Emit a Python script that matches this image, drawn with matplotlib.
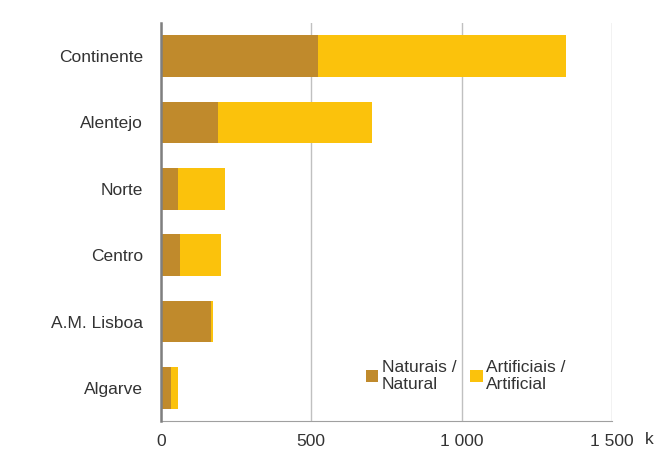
import matplotlib.pyplot as plt
from matplotlib.ticker import FuncFormatter

regions = ['Continente', 'Alentejo', 'Norte', 'Centro', 'A.M. Lisboa', 'Algarve']
natural = [521, 189, 56, 63, 166, 33]
artificial = [826, 514, 156, 136, 6, 23]
x_ticks = [0, 500, 1000, 1500]

plt.rcParams['font.family'] = ['Liberation Sans', 'DejaVu Sans']

fig = plt.figure(figsize=(6.55, 4.5), dpi=100)
ax = fig.add_axes([0.2458, 0.0644, 0.934 - 0.2458, 0.949 - 0.0644])

ypos = list(range(len(regions)))
ax.barh(ypos, natural, height=0.63, color='#C08A2C', label='Naturais /\nNatural', zorder=3)
ax.barh(ypos, artificial, left=natural, height=0.63, color='#FBC20C',
        label='Artificiais /\nArtificial', zorder=3)

ax.set_ylim(len(regions) - 0.5, -0.5)
ax.set_xlim(0, 1500)
ax.set_yticks(ypos)
ax.set_yticklabels(regions, fontsize=12.5, color='#333333')
ax.set_xticks(x_ticks)
ax.xaxis.set_major_formatter(FuncFormatter(lambda v, p: f'{int(v):,}'.replace(',', ' ')))
ax.tick_params(axis='x', labelsize=12.5, colors='#333333', length=0, pad=9)
ax.tick_params(axis='y', length=0, pad=13)

ax.grid(axis='x', color='#C0C0C0', linewidth=1, zorder=0)
for s in ['top', 'right']:
    ax.spines[s].set_visible(False)
ax.spines['left'].set_color('#7F7F7F')
ax.spines['left'].set_linewidth(1.8)
ax.spines['left'].set_zorder(4)
ax.spines['bottom'].set_color('#A0A0A0')

# unit label, only its first letter fits on the canvas
fig.text(645 / 655, 1 - 440 / 450, 'k', fontsize=12.5, color='#333333', va='center')

ax.legend(loc='lower left', bbox_to_anchor=(0.44, 0.055), ncol=2, frameon=False,
          fontsize=12.5, handlelength=0.7, handleheight=0.7, handletextpad=0.2,
          columnspacing=0.8, labelcolor='#333333', borderaxespad=0, labelspacing=0.2)

fig.savefig('out.png', dpi=100, facecolor='white')
